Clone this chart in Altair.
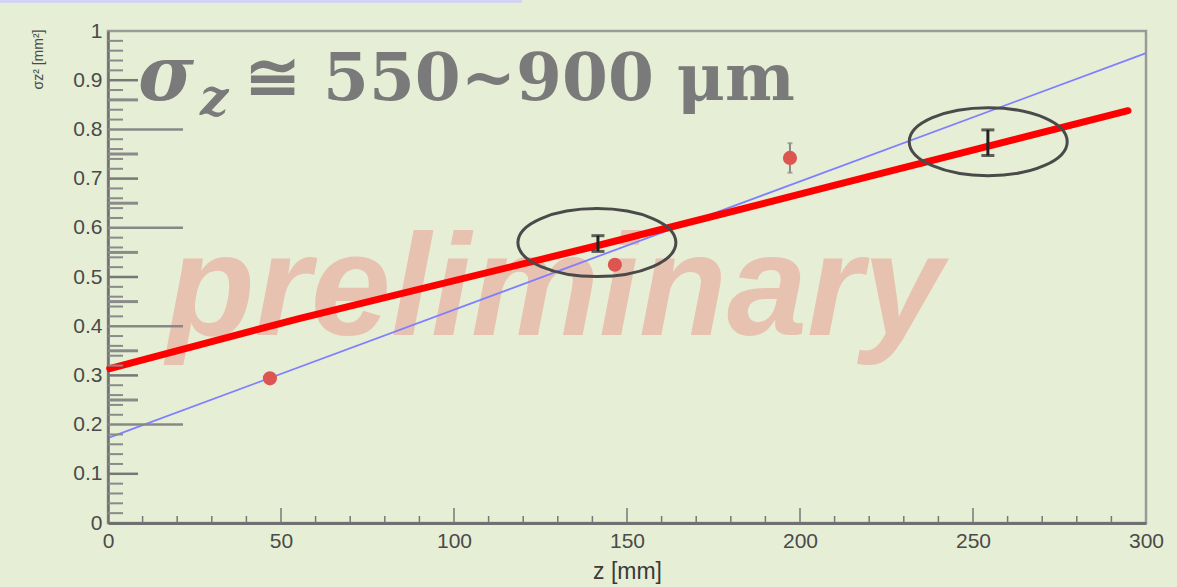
import altair as alt
import pandas as pd

# ---- data ----
blue_z = [0.5, 300.0]
blue_s = [0.174, 0.955]

red_z = [0.5, 55.5, 141.6, 208.7, 294.8]
red_s = [0.314, 0.416, 0.564, 0.684, 0.838]

pts_z = [46.8, 146.5, 197.1]
pts_s = [0.294, 0.525, 0.742]
pts_err = [0.0, 0.0, 0.03]

blk_z = [141.6, 254.3]
blk_s = [0.568, 0.773]
blk_err = [0.016, 0.026]

ell_z = [141.3, 254.4]
ell_s = [0.570, 0.775]

x_label_vals = [0, 50, 100, 150, 200, 250, 300]
y_label_vals = [0, 0.1, 0.2, 0.3, 0.4, 0.5, 0.6, 0.7, 0.8, 0.9, 1.0]
x_minor = [v for v in range(10, 300, 10) if v % 50 != 0]
x_major = [50, 100, 150, 200, 250]
y_minor = [round(i * 0.02, 2) for i in range(1, 50) if i % 5 != 0]
y_major = [0.1, 0.3, 0.5, 0.7, 0.9]
y_long = [0.2, 0.4, 0.6, 0.8]
y_medium = [0.25, 0.35, 0.45, 0.55, 0.65, 0.75, 0.86]

W, H = 1038, 492
GRAY = "#7a7a7a"

xs = alt.Scale(domain=[0, 300], nice=False)
ys = alt.Scale(domain=[0, 1], nice=False)

XAXIS = alt.Axis(values=x_label_vals, format="d", ticks=False, grid=False,
                 labelFont="Liberation Sans", labelFontSize=21, labelColor="#4a4a4a",
                 labelPadding=7, domainColor="#707070", domainWidth=3,
                 titleFont="Liberation Sans", titleFontSize=23, titleFontWeight="normal",
                 titleColor="#3a3a3a", titlePadding=9, labelFlush=False)
YAXIS = alt.Axis(values=y_label_vals, format=".1~f", ticks=False, grid=False,
                 labelFont="Liberation Sans", labelFontSize=21, labelColor="#4a4a4a",
                 labelPadding=6, domainColor="#707070", domainWidth=2.5,
                 titleFont="Liberation Sans", titleFontSize=14, titleFontWeight="normal",
                 titleColor="#4a4a4a", titleAngle=270,
                 titleX=-70, titleY=-2, titleAlign="right", titleBaseline="middle",
                 labelFlush=False)


def X(field="z"):
    return alt.X(f"{field}:Q", scale=xs, axis=XAXIS, title="z [mm]")


def Y(field="s"):
    return alt.Y(f"{field}:Q", scale=ys, axis=YAXIS, title="σz² [mm²]")


one = pd.DataFrame({"t": ["x"]})

watermark = alt.Chart(one).mark_text(
    text="preliminary", font="Liberation Sans", fontSize=144, fontWeight="bold",
    fontStyle="italic", color="#e8c2b0", align="center", baseline="alphabetic"
).encode(x=alt.value(447), y=alt.value(304))

blue = alt.Chart(pd.DataFrame({"z": blue_z, "s": blue_s})).mark_line(
    color="#7f7fff", strokeWidth=1.8).encode(x=X(), y=Y())

red = alt.Chart(pd.DataFrame({"z": red_z, "s": red_s})).mark_line(
    color="#ff0000", strokeWidth=7, strokeCap="round").encode(x=X(), y=Y())

pdf = pd.DataFrame({"z": pts_z, "s": pts_s, "lo": [a - e for a, e in zip(pts_s, pts_err)],
                    "hi": [a + e for a, e in zip(pts_s, pts_err)]})
pdf_e = pdf[pdf["hi"] > pdf["lo"]]
gray_err = alt.Chart(pdf_e).mark_rule(color="#8a8a8a", strokeWidth=2).encode(
    x=X(), y=Y("lo"), y2="hi:Q")
gray_caps_lo = alt.Chart(pdf_e).mark_tick(color="#8a8a8a", thickness=2, size=5, orient="horizontal").encode(
    x=X(), y=Y("lo"))
gray_caps_hi = alt.Chart(pdf_e).mark_tick(color="#8a8a8a", thickness=2, size=5, orient="horizontal").encode(
    x=X(), y=Y("hi"))
red_pts = alt.Chart(pdf).mark_circle(color="#dd5550", size=200, opacity=1).encode(x=X(), y=Y())

bdf = pd.DataFrame({"z": blk_z, "s": blk_s, "lo": [a - e for a, e in zip(blk_s, blk_err)],
                    "hi": [a + e for a, e in zip(blk_s, blk_err)]})
blk_err_r = alt.Chart(bdf).mark_rule(color="#222", strokeWidth=3).encode(x=X(), y=Y("lo"), y2="hi:Q")
blk_cap_lo = alt.Chart(bdf).mark_tick(color="#222", thickness=3, size=13, orient="horizontal").encode(
    x=X(), y=Y("lo"))
blk_cap_hi = alt.Chart(bdf).mark_tick(color="#222", thickness=3, size=13, orient="horizontal").encode(
    x=X(), y=Y("hi"))

ellipse_path = "M -1 0 A 1 0.43 0 1 1 1 0 A 1 0.43 0 1 1 -1 0 Z"
ellipses = alt.Chart(pd.DataFrame({"z": ell_z, "s": ell_s})).mark_point(
    shape=ellipse_path, filled=False, stroke="#4a4a4a", strokeWidth=3, size=158 * 158, opacity=1
).encode(x=X(), y=Y())

sig = alt.Chart(one).mark_text(
    text="σ", font="DejaVu Serif", fontSize=76, fontWeight="bold", fontStyle="italic",
    color=GRAY, align="left", baseline="alphabetic").encode(x=alt.value(30), y=alt.value(69))
sub = alt.Chart(one).mark_text(
    text="z", font="DejaVu Serif", fontSize=50, fontWeight="bold", fontStyle="italic",
    color=GRAY, align="left", baseline="alphabetic").encode(x=alt.value(92), y=alt.value(84))
rest = alt.Chart(one).mark_text(
    text="≅ 550~900 μm", font="DejaVu Serif", fontSize=66, fontWeight="bold",
    color=GRAY, align="left", baseline="alphabetic").encode(x=alt.value(137), y=alt.value(69))


def yticks(vals, length, width, color):
    return alt.Chart(pd.DataFrame({"s": vals})).mark_rule(color=color, strokeWidth=width).encode(
        y=Y(), x=alt.value(0), x2=alt.value(length))


def xticks(vals, length, width, color):
    return alt.Chart(pd.DataFrame({"z": vals})).mark_rule(color=color, strokeWidth=width).encode(
        x=X(), y=alt.value(H), y2=alt.value(H - length))


top_strip = alt.Chart(one).mark_rule(color="#d3d3f2", strokeWidth=4).encode(
    x=alt.value(-108), x2=alt.value(414), y=alt.value(-30))

chart = alt.layer(
    watermark, blue, red, gray_err, gray_caps_lo, gray_caps_hi, red_pts,
    blk_err_r, blk_cap_lo, blk_cap_hi, ellipses, sig, sub, rest,
    yticks(y_minor, 15, 2, "#8a8a8a"), yticks(y_major, 30, 2.5, "#777"),
    yticks(y_medium, 30, 3, "#8a8a8a"), yticks(y_long, 75, 2.5, "#888"),
    xticks(x_minor, 7, 1.5, "#777"), xticks(x_major, 15, 1.5, "#777"),
    top_strip,
).properties(
    width=W, height=H,
    autosize=alt.AutoSizeParams(type="none"),
    padding={"left": 108, "top": 31, "right": 31, "bottom": 64},
    background="#e6efd5",
).configure_view(stroke="#9a9a9a", strokeWidth=2.5)

chart.save("out.html", embed_options={"renderer": "svg", "actions": False})
